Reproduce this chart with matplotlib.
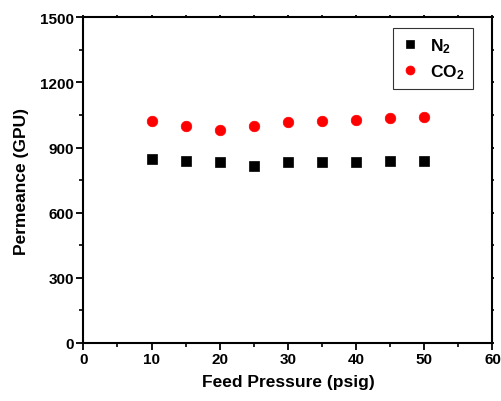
import matplotlib
matplotlib.use("Agg")
import matplotlib.pyplot as plt
from matplotlib.ticker import MultipleLocator

plt.rcParams['font.family'] = ['Liberation Sans', 'DejaVu Sans']
plt.rcParams['font.weight'] = 'bold'
plt.rcParams['mathtext.fontset'] = 'custom'
plt.rcParams['mathtext.rm'] = 'Liberation Sans:bold'
plt.rcParams['mathtext.it'] = 'Liberation Sans:bold'
plt.rcParams['mathtext.bf'] = 'Liberation Sans:bold'
plt.rcParams['mathtext.default'] = 'rm'

pressure = [10, 15, 20, 25, 30, 35, 40, 45, 50]
n2 = [847, 837, 832, 817, 834, 832, 832, 837, 840]
co2 = [1021, 998, 982, 998, 1016, 1024, 1028, 1035, 1039]

fig = plt.figure(figsize=(5.02, 4.02), dpi=100)
ax = fig.add_axes([0.166, 0.1443, 0.815, 0.8102])

ax.plot(pressure, n2, linestyle='none', marker='s', color='black', markersize=6.6,
        markeredgewidth=0.5, label=r'N$_2$')
ax.plot(pressure, co2, linestyle='none', marker='o', color='red', markersize=7.6,
        markeredgewidth=0.5, label=r'CO$_2$')

ax.set_xlim(0, 60)
ax.set_ylim(0, 1500)
ax.xaxis.set_major_locator(MultipleLocator(10))
ax.xaxis.set_minor_locator(MultipleLocator(5))
ax.yaxis.set_major_locator(MultipleLocator(300))
ax.yaxis.set_minor_locator(MultipleLocator(150))

for s in ax.spines.values():
    s.set_linewidth(1.5)

ax.tick_params(which='major', direction='out', length=5, width=1.3, labelsize=11, pad=1.5)
ax.tick_params(which='minor', direction='out', length=3, width=1.2)
ax.tick_params(which='both', top=True, right=True)
for t in ax.xaxis.get_major_ticks() + ax.xaxis.get_minor_ticks():
    t.tick2line.set_markersize(1.5)
for t in ax.yaxis.get_major_ticks() + ax.yaxis.get_minor_ticks():
    t.tick2line.set_markersize(1.5)

for lab in ax.get_xticklabels() + ax.get_yticklabels():
    lab.set_fontweight('bold')

ax.set_xlabel('Feed Pressure (psig)', fontsize=12.5, fontweight='bold', labelpad=6)
ax.set_ylabel('Permeance (GPU)', fontsize=12.5, fontweight='bold', labelpad=8)

leg = ax.legend(loc='upper left', bbox_to_anchor=(0.757, 0.967), frameon=True, fancybox=False,
                edgecolor='black', handlelength=1.0, handletextpad=0.7, markerscale=0.85,
                borderpad=0.45, labelspacing=0.45, borderaxespad=0,
                prop={'weight': 'bold', 'size': 12.5})
leg.get_frame().set_linewidth(0.8)

fig.savefig('out.png', dpi=100)
